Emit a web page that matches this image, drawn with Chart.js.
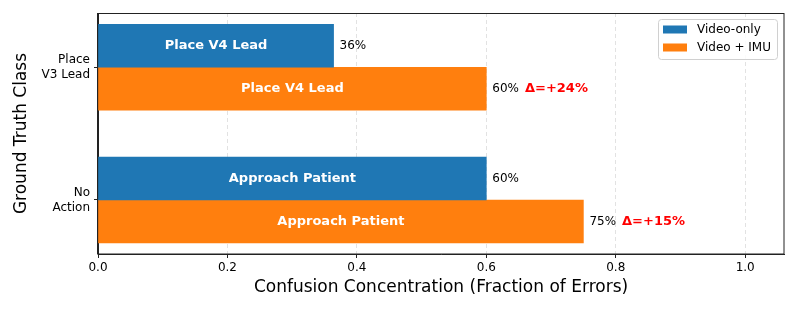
<!DOCTYPE html>
<html>
<head>
<meta charset="utf-8">
<script src="https://cdn.jsdelivr.net/npm/chart.js"></script>
<style>html,body{margin:0;padding:0;background:#fff}</style>
</head>
<body>
<canvas id="grafico" width="797" height="310"></canvas>
<script>
  const categorias = [['Place', 'V3 Lead'], ['No', 'Action']];
  const series = ['Video-only', 'Video + IMU'];
  const videoOnly = [0.364, 0.60];
  const videoImu = [0.60, 0.75];
  const prediccionVideo = ['Place V4 Lead', 'Approach Patient'];
  const prediccionImu = ['Place V4 Lead', 'Approach Patient'];
  const deltas = ['Δ=+24%', 'Δ=+15%'];
  const xTicks = [0, 0.2, 0.4, 0.6, 0.8, 1.0];
  const colores = ['#1f77b4', '#ff7f0e'];

  const fuente = '"DejaVu Sans", sans-serif';
  Chart.defaults.font.family = fuente;

  // etiquetas dentro y al lado de las barras, marco y leyenda
  const etiquetas = {
    id: 'etiquetas',
    afterDatasetsDraw(chart) {
      const ctx = chart.ctx;
      const internos = [prediccionVideo, prediccionImu];
      chart.data.datasets.forEach((ds, i) => {
        chart.getDatasetMeta(i).data.forEach((bar, j) => {
          ctx.save();
          ctx.textBaseline = 'middle';
          ctx.font = 'bold 13px ' + fuente;
          ctx.fillStyle = '#fff';
          ctx.textAlign = 'center';
          ctx.fillText(internos[i][j], (bar.base + bar.x) / 2, bar.y);
          ctx.font = '12px ' + fuente;
          ctx.fillStyle = '#000';
          ctx.textAlign = 'left';
          const txt = Math.round(ds.data[j].x * 100) + '%';
          ctx.fillText(txt, bar.x + 6, bar.y);
          if (i === 1) {
            const w = ctx.measureText(txt).width;
            ctx.font = 'bold 13px ' + fuente;
            ctx.fillStyle = '#ff0000';
            ctx.fillText(deltas[j], bar.x + 6 + w + 6, bar.y);
          }
          ctx.restore();
        });
      });
    },
    afterDraw(chart) {
      const ctx = chart.ctx;
      const a = chart.chartArea;
      ctx.save();
      ctx.strokeStyle = '#222';
      ctx.lineWidth = 1;
      ctx.strokeRect(Math.round(a.left) - 0.5, Math.round(a.top) + 0.5,
        Math.round(a.right - a.left) + 0.5, Math.round(a.bottom - a.top) - 0.5);

      // leyenda
      const lx = a.right - 126, ly = a.top + 6, lw = 119, lh = 40;
      ctx.fillStyle = 'rgba(255,255,255,0.85)';
      ctx.strokeStyle = '#d0d0d0';
      ctx.beginPath();
      ctx.roundRect(lx + 0.5, ly + 0.5, lw, lh, 3);
      ctx.fill();
      ctx.stroke();
      ctx.font = '12px ' + fuente;
      ctx.textBaseline = 'middle';
      ctx.textAlign = 'left';
      series.forEach((s, i) => {
        const cy = ly + 10.5 + i * 18;
        ctx.fillStyle = colores[i];
        ctx.fillRect(lx + 5, cy - 4, 24, 8);
        ctx.fillStyle = '#000';
        ctx.fillText(s, lx + 39, cy);
      });
      ctx.restore();
    }
  };

  new Chart(document.getElementById('grafico'), {
    type: 'bar',
    data: {
      datasets: [
        {
          label: series[0],
          data: videoOnly.map((v, i) => ({ x: v, y: i })),
          backgroundColor: colores[0],
          barThickness: 43
        },
        {
          label: series[1],
          data: videoImu.map((v, i) => ({ x: v, y: i })),
          backgroundColor: colores[1],
          barThickness: 43
        }
      ]
    },
    options: {
      indexAxis: 'y',
      responsive: false,
      animation: false,
      layout: { padding: { top: 13, right: 13, left: 0, bottom: 0 } },
      plugins: { legend: { display: false }, tooltip: { enabled: false } },
      scales: {
        x: {
          type: 'linear',
          min: 0,
          max: 1.06,
          afterBuildTicks: s => { s.ticks = xTicks.map(v => ({ value: v })); },
          afterFit: s => { s.height = 56; s.paddingLeft = 0; s.paddingRight = 0; },
          ticks: {
            callback: v => v.toFixed(1),
            font: { size: 12 },
            color: '#000',
            padding: 3,
            maxRotation: 0
          },
          grid: { color: '#e2e2e2', tickColor: '#222', tickLength: 4 },
          border: { dash: [4, 3], color: '#222' },
          title: {
            display: true,
            text: 'Confusion Concentration (Fraction of Errors)',
            font: { size: 17 },
            color: '#000',
            padding: { top: 0, bottom: 12 }
          }
        },
        y: {
          type: 'linear',
          reverse: true,
          offset: false,
          min: -0.409,
          max: 1.407,
          afterBuildTicks: s => { s.ticks = categorias.map((c, i) => ({ value: i })); },
          afterFit: s => { s.width = 98; s.paddingTop = 0; s.paddingBottom = 0; },
          ticks: {
            callback: v => categorias[v],
            font: { size: 12, lineHeight: 1.25 },
            color: '#000',
            padding: 4,
            autoSkip: false
          },
          grid: { offset: false, drawOnChartArea: false, tickColor: '#222', tickLength: 4 },
          border: { color: '#222' },
          title: {
            display: true,
            text: 'Ground Truth Class',
            font: { size: 17 },
            color: '#000',
            padding: { top: 11, bottom: 0 }
          }
        }
      }
    },
    plugins: [etiquetas]
  });
</script>
</body>
</html>
